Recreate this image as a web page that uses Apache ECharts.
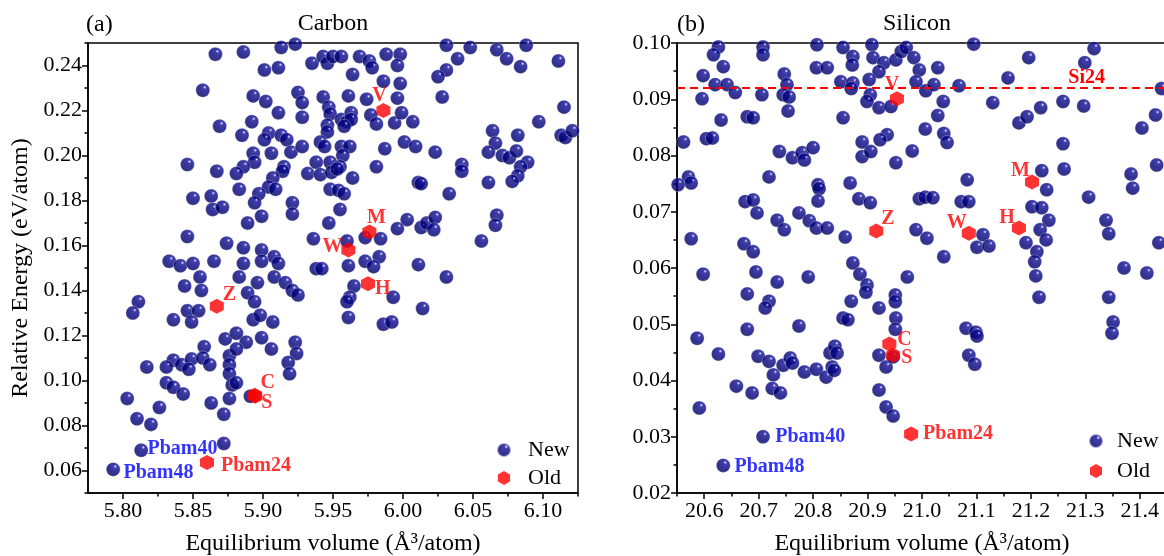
<!DOCTYPE html>
<html><head><meta charset="utf-8">
<script src="https://cdn.jsdelivr.net/npm/echarts@6/dist/echarts.min.js"></script>
<style>html,body{margin:0;padding:0;background:#fff}#c{width:1164px;height:556px}</style>
</head><body><div id="c"></div>
<script>
// ---------- DATA ----------
const carbonNew = [
[5.866,0.245],[5.886,0.246],[5.913,0.248],[5.923,0.2495],[5.901,0.238],[5.911,0.239],[5.857,0.229],[5.893,0.2265],
[5.902,0.224],[5.911,0.219],[5.892,0.215],[5.869,0.213],[5.885,0.209],[5.904,0.210],[5.901,0.207],[5.913,0.209],
[5.917,0.207],[5.893,0.201],[5.906,0.201],[5.920,0.2015],[5.846,0.196],[5.867,0.193],[5.894,0.197],[5.886,0.195],
[5.881,0.192],[5.915,0.195],[5.914,0.193],[5.907,0.190],[5.904,0.186],[5.909,0.185],[5.850,0.181],[5.863,0.182],
[5.864,0.176],[5.871,0.177],[5.883,0.185],[5.897,0.183],[5.894,0.179],[5.899,0.173],[5.889,0.170],[5.921,0.179],
[5.921,0.174],[5.846,0.164],[5.874,0.161],[5.886,0.159],[5.899,0.158],[5.908,0.155],[5.911,0.152],[5.833,0.153],
[5.841,0.151],[5.850,0.152],[5.865,0.153],[5.886,0.152],[5.899,0.153],[5.855,0.146],[5.856,0.140],[5.844,0.142],
[5.883,0.146],[5.896,0.1435],[5.889,0.139],[5.894,0.135],[5.908,0.146],[5.916,0.1435],[5.921,0.140],[5.925,0.138],
[5.811,0.135],[5.807,0.130],[5.836,0.127],[5.846,0.131],[5.854,0.131],[5.849,0.126],[5.893,0.127],[5.898,0.129],
[5.907,0.126],[5.873,0.1185],[5.881,0.121],[5.888,0.117],[5.899,0.119],[5.906,0.114],[5.923,0.117],[5.924,0.112],
[5.858,0.115],[5.876,0.111],[5.881,0.114],[5.817,0.106],[5.836,0.109],[5.831,0.106],[5.842,0.107],[5.849,0.1096],
[5.857,0.110],[5.862,0.107],[5.876,0.107],[5.876,0.103],[5.831,0.099],[5.836,0.097],[5.847,0.105],[5.878,0.098],
[5.881,0.099],[5.918,0.108],[5.919,0.103],[5.843,0.094],[5.803,0.092],[5.863,0.090],[5.876,0.092],[5.872,0.085],
[5.891,0.093],[5.826,0.088],[5.810,0.083],[5.820,0.0805],[5.872,0.072],
[5.935,0.241],[5.943,0.244],[5.946,0.241],[5.950,0.244],[5.956,0.244],[5.969,0.244],[5.976,0.242],[5.978,0.239],
[5.988,0.245],[5.998,0.245],[5.996,0.240],[5.964,0.236],[5.986,0.233],[5.998,0.232],[6.031,0.249],[6.048,0.248],
[6.039,0.243],[6.031,0.238],[6.025,0.235],[6.028,0.226],[6.067,0.247],[6.074,0.243],[6.084,0.2395],[6.088,0.249],
[6.111,0.242],[5.925,0.228],[5.928,0.2235],[5.928,0.217],[5.943,0.226],[5.947,0.2215],[5.948,0.2185],[5.946,0.2135],
[5.946,0.2105],[5.956,0.216],[5.960,0.215],[5.963,0.219],[5.963,0.216],[5.958,0.213],[5.961,0.2265],[5.974,0.225],
[5.996,0.2255],[5.977,0.218],[5.981,0.214],[5.994,0.2145],[5.999,0.219],[6.007,0.215],[5.928,0.204],[5.941,0.206],
[5.944,0.204],[5.956,0.204],[5.962,0.204],[5.957,0.200],[5.987,0.203],[6.001,0.206],[6.009,0.204],[6.023,0.2015],
[5.938,0.197],[5.948,0.197],[5.955,0.195],[5.932,0.192],[5.941,0.1915],[5.949,0.1925],[5.953,0.194],[5.964,0.190],
[5.981,0.195],[5.948,0.185],[5.954,0.1845],[5.958,0.183],[6.011,0.188],[6.013,0.1875],[6.033,0.183],[6.042,0.196],
[6.042,0.193],[6.061,0.188],[5.955,0.176],[5.947,0.170],[6.064,0.211],[6.066,0.2055],[6.061,0.2015],[6.071,0.200],
[6.076,0.199],[6.081,0.202],[6.082,0.209],[6.089,0.197],[6.084,0.195],[6.082,0.191],[6.078,0.1885],[6.097,0.215],
[6.115,0.2215],[6.113,0.209],[6.116,0.208],[6.121,0.211],[6.067,0.1735],[6.066,0.169],[6.056,0.162],[6.003,0.1715],
[6.013,0.168],[6.017,0.170],[6.023,0.1725],[6.022,0.167],[5.996,0.1675],[6.011,0.1515],[5.936,0.163],[5.960,0.162],
[5.973,0.1635],[5.984,0.163],[5.983,0.155],[5.973,0.153],[5.961,0.151],[5.938,0.1497],[5.942,0.1497],[5.979,0.1506],
[6.031,0.146],[5.965,0.142],[5.962,0.137],[5.960,0.135],[5.961,0.128],[5.993,0.137],[6.014,0.132],[5.986,0.125],[5.992,0.126]
];
const carbonNewNamed = [['Pbam40',5.813,0.069],['Pbam48',5.793,0.0605]];
const carbonOld = [['V',5.986,0.220],['M',5.976,0.166],['W',5.961,0.158],['H',5.975,0.143],['Z',5.867,0.133],
  ['C',5.894,0.0935],['S',5.8945,0.093],['Pbam24',5.860,0.0636]];

const siliconNew = [
[20.626,0.0993],[20.617,0.0979],[20.635,0.0958],[20.598,0.0942],[20.620,0.0926],[20.642,0.0926],[20.657,0.0912],[20.596,0.0901],
[20.631,0.0863],[20.562,0.0824],[20.604,0.0830],[20.615,0.0831],[20.571,0.0762],[20.576,0.0751],[20.552,0.0748],[20.576,0.0652],
[20.708,0.0993],[20.708,0.0979],[20.706,0.0908],[20.679,0.0869],[20.690,0.0867],[20.747,0.0945],[20.752,0.0926],[20.745,0.0908],
[20.756,0.0904],[20.754,0.0879],[20.807,0.0997],[20.806,0.0956],[20.826,0.0956],[20.855,0.0992],[20.873,0.0976],[20.872,0.0961],
[20.851,0.0931],[20.873,0.0929],[20.870,0.0919],[20.855,0.0867],[20.738,0.0807],[20.762,0.0796],[20.780,0.0805],[20.784,0.0792],
[20.800,0.0814],[20.719,0.0762],[20.868,0.0751],[20.890,0.0824],[20.890,0.0798],[20.675,0.0718],[20.690,0.0721],[20.697,0.0698],
[20.734,0.0685],[20.747,0.0668],[20.774,0.0698],[20.793,0.0684],[20.806,0.0671],[20.826,0.0671],[20.809,0.0748],[20.811,0.0741],
[20.809,0.0719],[20.884,0.0723],[20.859,0.0655],[20.673,0.0643],[20.690,0.0629],[20.873,0.0609],[20.598,0.0589],[20.695,0.0593],
[20.734,0.0575],[20.791,0.0584],[20.886,0.0589],[20.679,0.0554],[20.719,0.0541],[20.712,0.0529],[20.587,0.0475],[20.679,0.0491],
[20.774,0.0497],[20.855,0.0511],[20.864,0.0508],[20.870,0.0541],[20.626,0.0447],[20.699,0.0443],[20.719,0.0434],[20.745,0.0427],
[20.758,0.0440],[20.762,0.0431],[20.727,0.0410],[20.784,0.0415],[20.806,0.0420],[20.824,0.0406],[20.831,0.0449],[20.840,0.0461],
[20.844,0.0449],[20.835,0.0424],[20.839,0.0418],[20.659,0.0390],[20.688,0.0378],[20.725,0.0386],[20.740,0.0378],[20.591,0.0351],
[20.908,0.0997],[20.910,0.0974],[20.930,0.0965],[20.921,0.0949],[20.952,0.0970],[20.962,0.0985],[20.971,0.0992],[20.985,0.0974],
[20.995,0.0952],[21.029,0.0956],[20.903,0.0935],[20.989,0.0931],[21.007,0.0915],[21.022,0.0926],[21.068,0.0924],[21.095,0.0998],
[20.905,0.0908],[20.899,0.0896],[20.921,0.0885],[20.943,0.0887],[21.039,0.0896],[21.029,0.0871],[21.006,0.0847],[21.040,0.0839],
[21.046,0.0823],[20.936,0.0837],[20.923,0.0828],[20.906,0.0807],[20.982,0.0808],[20.952,0.0787],[21.130,0.0894],[21.158,0.0938],
[21.196,0.0974],[21.178,0.0858],[21.193,0.0869],[21.218,0.0885],[21.259,0.0896],[21.297,0.0888],[21.299,0.0965],[21.316,0.0990],
[21.259,0.0821],[21.261,0.0776],[21.220,0.0773],[21.229,0.0739],[21.202,0.0709],[21.220,0.0707],[21.233,0.0685],[21.217,0.0668],
[21.228,0.0650],[21.191,0.0645],[21.211,0.0629],[21.207,0.0611],[21.209,0.0586],[21.306,0.0726],[21.338,0.0685],[21.343,0.0661],
[21.384,0.0767],[21.387,0.0742],[21.404,0.0849],[21.429,0.0872],[21.431,0.0783],[21.440,0.0919],[21.435,0.0645],[21.371,0.0600],
[21.413,0.0591],[21.083,0.0757],[21.072,0.0718],[21.086,0.0718],[20.995,0.0723],[21.006,0.0726],[21.020,0.0725],[20.989,0.0668],
[21.009,0.0653],[21.040,0.0620],[21.101,0.0637],[21.112,0.0659],[21.123,0.0639],[20.905,0.0716],[20.973,0.0584],[20.899,0.0570],
[20.897,0.0557],[20.921,0.0529],[20.951,0.0552],[20.951,0.0540],[20.952,0.0511],[20.951,0.0491],[20.921,0.0445],[20.934,0.0424],
[20.921,0.0383],[20.934,0.0353],[20.947,0.0337],[21.081,0.0493],[21.099,0.0486],[21.101,0.0479],[21.086,0.0445],[21.097,0.0429],
[21.215,0.0548],[21.343,0.0548],[21.351,0.0504],[21.349,0.0484],[20.947,0.0442]
];
const siliconNewNamed = [['Pbam40',20.708,0.0300],['Pbam48',20.635,0.0249]];
const siliconOld = [['V',20.954,0.0901],['Z',20.916,0.0666],['W',21.086,0.0662],['H',21.178,0.0671],['M',21.202,0.0753],
  ['C',20.940,0.0465],['S',20.947,0.0445],['Pbam24',20.980,0.0305]];
const si24Energy = 0.092;

const carbonXMajor = [5.80,5.85,5.90,5.95,6.00,6.05,6.10];
const carbonXMinor = [5.825,5.875,5.925,5.975,6.025,6.075,6.125];
const carbonYMajor = [0.06,0.08,0.10,0.12,0.14,0.16,0.18,0.20,0.22,0.24];
const carbonYMinor = [0.05,0.07,0.09,0.11,0.13,0.15,0.17,0.19,0.21,0.23,0.25];
const siliconXMajor = [20.6,20.7,20.8,20.9,21.0,21.1,21.2,21.3,21.4];
const siliconXMinor = [20.55,20.65,20.75,20.85,20.95,21.05,21.15,21.25,21.35,21.45];
const siliconYMajor = [0.02,0.03,0.04,0.05,0.06,0.07,0.08,0.09,0.10];
const siliconYMinor = [0.025,0.035,0.045,0.055,0.065,0.075,0.085,0.095];

// ---------- STYLE ----------
const FONT = '"Liberation Serif","Times New Roman",serif';
const sphere = {type:'radial', x:0.64, y:0.3, r:0.75, colorStops:[
  {offset:0,color:'#ffffff'},{offset:0.06,color:'#9494e2'},{offset:0.16,color:'#101090'},{offset:0.55,color:'#000080'},{offset:1,color:'#000058'}]};
const hex = 'path://M0,-10L8.66,-5L8.66,5L0,10L-8.66,5L-8.66,-5Z';
const redLab = {color:'#ff0000', fontWeight:'bold', fontSize:20, fontFamily:FONT};
const blueLab = {color:'#0000ff', fontWeight:'bold', fontSize:20, fontFamily:FONT};
const carbonLabelPos = {V:['top',[-4,8]], M:['top',[7,8]], W:['left',[6,-3]], H:['right',[-5,5]], Z:['right',[-6,-11]],
  C:['right',[-6,-12]], S:['right',[-6,7]], Pbam24:['right',[2,3]], Pbam40:['right',[-6,-1]], Pbam48:['right',[-2,3]]};
const siliconLabelPos = {V:['top',[-5,9]], M:['left',[10,-11]], W:['left',[10,-10]], H:['left',[8,-10]], Z:['right',[-7,-12]],
  C:['right',[-4,-4]], S:['right',[-4,3]], Pbam24:['right',[0,0]], Pbam40:['right',[0,0]], Pbam48:['right',[-1,1]]};

function labeled(arr, pos, style) {
  return arr.map(([n,x,y]) => ({value:[x,y], label:Object.assign({show:true, formatter:n, position:pos[n][0], offset:pos[n][1]}, style)}));
}

const tickFont = {color:'#000', fontSize:22, fontFamily:FONT};
const nameFont = {color:'#000', fontSize:24, fontFamily:FONT};
function mainAxis(grid, min, max, major, digits, extra) {
  return Object.assign({
    type:'value', gridIndex:grid, min:min, max:max,
    axisLine:{show:true, onZero:false, lineStyle:{color:'#000', width:1.5}},
    axisTick:{show:true, length:6, customValues:major, lineStyle:{color:'#000', width:1.5}},
    axisLabel:Object.assign({customValues:major, formatter:v => v.toFixed(digits), margin:6}, tickFont),
    splitLine:{show:false}
  }, extra);
}
function minorAxis(grid, min, max, minor, position) {
  return {type:'value', gridIndex:grid, min:min, max:max, position:position,
    axisLine:{show:false}, axisTick:{show:true, length:3.5, customValues:minor, lineStyle:{color:'#000', width:1.5}},
    axisLabel:{show:false}, splitLine:{show:false}};
}
const xName = {name:'Equilibrium volume (Å³/atom)', nameLocation:'middle', nameGap:39, nameTextStyle:nameFont};
const xLab = {margin:7};

const option = {
  animation:false,
  backgroundColor:'#fff',
  title:[
    {text:'(a)', left:86, top:13, padding:0, textStyle:Object.assign({fontWeight:'normal'}, nameFont)},
    {text:'Carbon', left:333, top:12, padding:0, textAlign:'center', textStyle:Object.assign({fontWeight:'normal'}, nameFont)},
    {text:'(b)', left:677, top:13, padding:0, textStyle:Object.assign({fontWeight:'normal'}, nameFont)},
    {text:'Silicon', left:917, top:12, padding:0, textAlign:'center', textStyle:Object.assign({fontWeight:'normal'}, nameFont)}
  ],
  grid:[
    {left:88, top:43, width:490, height:450, outerBoundsMode:'none', containLabel:false, show:true, borderColor:'#000', borderWidth:1.5, backgroundColor:'transparent'},
    {left:677, top:43, width:490, height:450, outerBoundsMode:'none', containLabel:false, show:true, borderColor:'#000', borderWidth:1.5, backgroundColor:'transparent'}
  ],
  legend:[
    {orient:'vertical', left:496, top:439, padding:0, itemWidth:14, itemHeight:14, itemGap:6, data:['New','Old'],
      textStyle:{color:'#000', fontSize:22, fontFamily:FONT, padding:[0,0,0,12]}},
    {orient:'vertical', left:1088, top:430, padding:0, itemWidth:14, itemHeight:14, itemGap:8, data:['New','Old'],
      textStyle:{color:'#000', fontSize:22, fontFamily:FONT, padding:[0,0,0,9]}}
  ],
  xAxis:[
    mainAxis(0, 5.775, 6.125, carbonXMajor, 2, Object.assign({position:'bottom'}, xName)),
    minorAxis(0, 5.775, 6.125, carbonXMinor, 'bottom'),
    mainAxis(1, 20.55, 21.45, siliconXMajor, 1, Object.assign({position:'bottom'}, xName)),
    minorAxis(1, 20.55, 21.45, siliconXMinor, 'bottom')
  ],
  yAxis:[
    mainAxis(0, 0.05, 0.25, carbonYMajor, 2, {position:'left', name:'Relative Energy (eV/atom)', nameLocation:'middle', nameGap:55, nameTextStyle:nameFont}),
    minorAxis(0, 0.05, 0.25, carbonYMinor, 'left'),
    mainAxis(1, 0.02, 0.10, siliconYMajor, 2, {position:'left'}),
    minorAxis(1, 0.02, 0.10, siliconYMinor, 'left')
  ],
  series:[
    {name:'New', type:'scatter', xAxisIndex:0, yAxisIndex:0, symbol:'circle', symbolSize:14, z:2,
      itemStyle:{color:sphere, borderColor:'rgba(255,255,255,0.75)', borderWidth:0.5},
      data: carbonNew.concat(labeled(carbonNewNamed, carbonLabelPos, blueLab))},
    {name:'Old', type:'scatter', xAxisIndex:0, yAxisIndex:0, symbol:hex, symbolSize:[14,15], z:3,
      itemStyle:{color:'#ff0000'},
      data: labeled(carbonOld, carbonLabelPos, redLab)},
    {name:'New', type:'scatter', xAxisIndex:2, yAxisIndex:2, symbol:'circle', symbolSize:14, z:2,
      itemStyle:{color:sphere, borderColor:'rgba(255,255,255,0.75)', borderWidth:0.5},
      data: siliconNew.concat(labeled(siliconNewNamed, siliconLabelPos, blueLab)),
      markLine:{silent:true, symbol:['none','none'], animation:false, precision:4,
        lineStyle:{color:'#ff0000', type:[8,5], width:2.2},
        label:Object.assign({show:true, formatter:'Si24', position:'insideEndTop', padding:[0,62,0,0], distance:0}, redLab),
        data:[[{coord:[20.55, si24Energy]},{coord:[21.45, si24Energy]}]]}},
    {name:'Old', type:'scatter', xAxisIndex:2, yAxisIndex:2, symbol:hex, symbolSize:[14,15], z:3,
      itemStyle:{color:'#ff0000'},
      data: labeled(siliconOld, siliconLabelPos, redLab)}
  ]
};
option.xAxis.forEach(a => { if (a.axisLabel.show !== false) Object.assign(a.axisLabel, xLab); });
const chart = echarts.init(document.getElementById('c'));
chart.setOption(option);
</script></body></html>
